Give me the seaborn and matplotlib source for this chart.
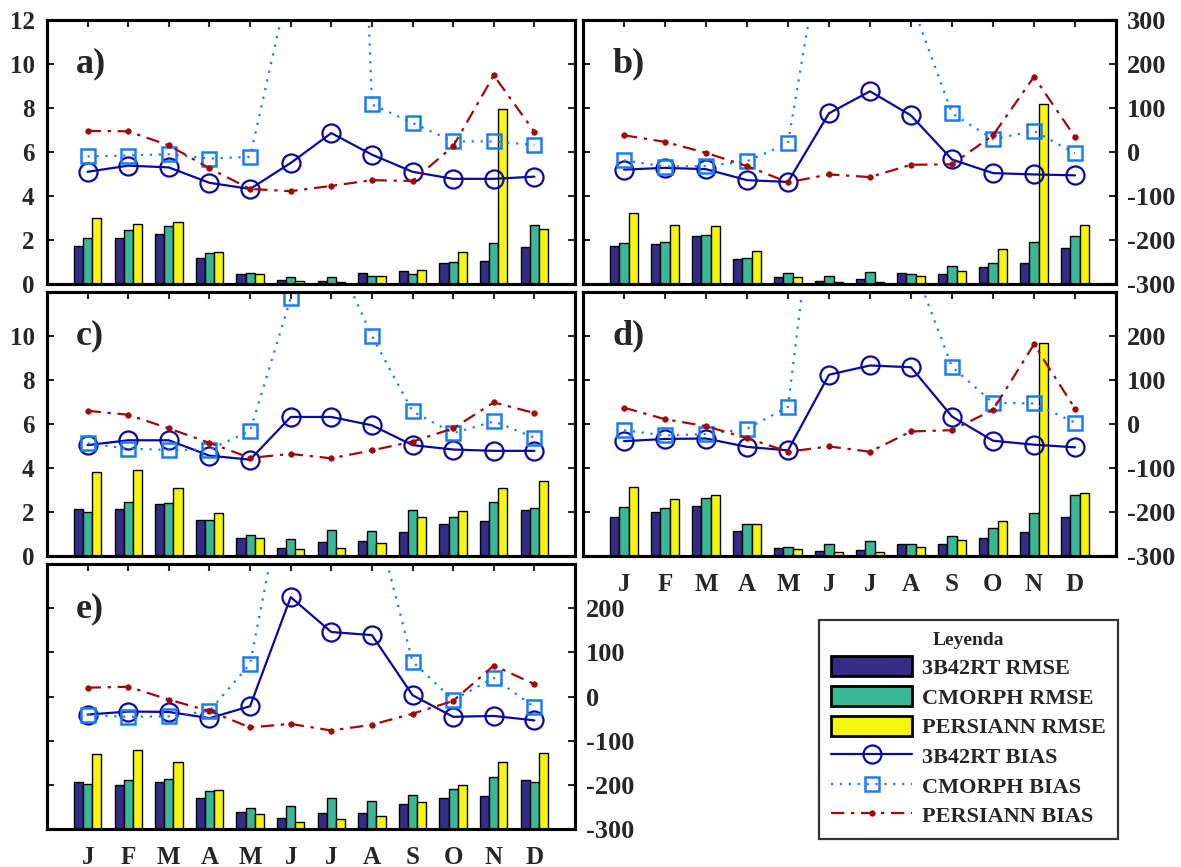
import numpy as np
import pandas as pd
import matplotlib
matplotlib.use("Agg")
import matplotlib.pyplot as plt
import seaborn as sns
from matplotlib.patches import Patch
from matplotlib.lines import Line2D

months = ["J", "F", "M", "A", "M", "J", "J", "A", "S", "O", "N", "D"]
products = ["3B42RT", "CMORPH", "PERSIANN"]

# ---- panel a ----
a_rmse_3b42rt = [1.74, 2.09, 2.26, 1.20, 0.45, 0.17, 0.14, 0.50, 0.58, 0.94, 1.06, 1.70]
a_rmse_cmorph = [2.09, 2.44, 2.64, 1.42, 0.50, 0.30, 0.32, 0.38, 0.47, 1.02, 1.88, 2.67]
a_rmse_persiann = [3.00, 2.71, 2.80, 1.45, 0.47, 0.15, 0.10, 0.38, 0.62, 1.44, 7.95, 2.52]
a_bias_3b42rt = [-45, -31, -35, -70, -84, -25, 43, -6, -45, -61, -61, -56]
a_bias_cmorph = [-10, -8, -5, -15, -11, 400, 2600, 108, 66, 24, 24, 16]
a_bias_persiann = [48, 47, 15, -37, -84, -89, -77, -64, -66, 13, 174, 46]

# ---- panel b ----
b_rmse_3b42rt = [1.72, 1.80, 2.17, 1.13, 0.32, 0.15, 0.21, 0.48, 0.47, 0.78, 0.97, 1.62]
b_rmse_cmorph = [1.87, 1.92, 2.22, 1.16, 0.50, 0.36, 0.53, 0.44, 0.82, 0.97, 1.89, 2.20]
b_rmse_persiann = [3.23, 2.67, 2.63, 1.49, 0.32, 0.10, 0.10, 0.35, 0.60, 1.60, 8.18, 2.67]
b_bias_3b42rt = [-40, -36, -39, -64, -68, 88, 138, 83, -17, -48, -51, -53]
b_bias_cmorph = [-19, -33, -32, -21, 20, 570, 600, 343, 88, 29, 48, -3]
b_bias_persiann = [38, 23, -2, -32, -69, -51, -57, -29, -28, 38, 171, 34]

# ---- panel c ----
c_rmse_3b42rt = [2.15, 2.15, 2.37, 1.62, 0.80, 0.38, 0.64, 0.70, 1.08, 1.46, 1.60, 2.09]
c_rmse_cmorph = [2.00, 2.44, 2.40, 1.64, 0.97, 0.76, 1.18, 1.15, 2.08, 1.78, 2.47, 2.20]
c_rmse_persiann = [3.82, 3.90, 3.10, 1.94, 0.80, 0.30, 0.35, 0.59, 1.76, 2.03, 3.10, 3.40]
c_bias_3b42rt = [-48, -37, -37, -72, -81, 16, 16, -3, -48, -58, -61, -61]
c_bias_cmorph = [-44, -56, -59, -58, -16, 286, 404, 200, 29, -21, 6, -31]
c_bias_persiann = [30, 21, -10, -43, -77, -68, -78, -60, -40, -10, 49, 25]

# ---- panel d ----
d_rmse_3b42rt = [1.77, 2.00, 2.28, 1.15, 0.35, 0.21, 0.29, 0.53, 0.53, 0.83, 1.10, 1.77]
d_rmse_cmorph = [2.22, 2.16, 2.64, 1.47, 0.42, 0.53, 0.68, 0.54, 0.89, 1.27, 1.95, 2.76]
d_rmse_persiann = [3.14, 2.58, 2.76, 1.47, 0.33, 0.17, 0.20, 0.42, 0.72, 1.57, 9.70, 2.85]
d_bias_3b42rt = [-39, -34, -33, -52, -60, 112, 133, 129, 17, -38, -47, -53]
d_bias_cmorph = [-14, -26, -23, -11, 39, 800, 700, 376, 130, 48, 47, 3]
d_bias_persiann = [37, 11, -5, -32, -63, -51, -63, -17, -14, 32, 181, 35]

# ---- panel e ----
e_rmse_3b42rt = [2.12, 1.97, 2.15, 1.42, 0.76, 0.48, 0.73, 0.71, 1.15, 1.42, 1.48, 2.20]
e_rmse_cmorph = [2.06, 2.21, 2.27, 1.74, 0.95, 1.03, 1.42, 1.29, 1.52, 1.82, 2.36, 2.15]
e_rmse_persiann = [3.39, 3.59, 3.02, 1.77, 0.70, 0.30, 0.47, 0.58, 1.24, 1.97, 3.02, 3.42]
e_bias_3b42rt = [-41, -34, -35, -49, -22, 225, 146, 139, 3, -46, -44, -54]
e_bias_cmorph = [-42, -46, -45, -33, 74, 545, 600, 435, 79, -8, 42, -24]
e_bias_persiann = [20, 22, -7, -33, -70, -62, -77, -64, -39, -10, 70, 28]

sns.set_theme(style="white")
plt.rcParams["font.family"] = ["Liberation Serif", "DejaVu Serif"]
plt.rcParams["font.weight"] = "bold"

bar_colors = ["#342c86", "#3ab797", "#f6f60c"]
c_3b = "#0a0a9c"
c_cm = "#1a7cf5"
c_pe = "#a00a0a"
line_specs = [
    dict(color=c_3b, lw=1.6, linestyle="-", marker="o", markersize=13,
         markerfacecolor="none", markeredgecolor=c_3b, markeredgewidth=1.6),
    dict(color=c_cm, lw=1.6, linestyle=(0, (1, 3)), marker="s", markersize=10,
         markerfacecolor="none", markeredgecolor=c_cm, markeredgewidth=1.8),
    dict(color=c_pe, lw=1.6, linestyle=(0, (6, 3, 1.5, 3)), marker="o", markersize=4,
         markerfacecolor=c_pe, markeredgecolor=c_pe, markeredgewidth=0.5),
]

W, H = 1181, 867
fig = plt.figure(figsize=(W / 100, H / 100), dpi=100)


def rect(x0, x1, y0, y1):
    return [x0 / W, 1 - y1 / H, (x1 - x0) / W, (y1 - y0) / H]


TICKFS = 18


def panel(r, label, rmse, bias, left_labels, left_ticks, right_labels, right_ticks, month_labels):
    ax = fig.add_axes(r)
    df = pd.DataFrame({
        "month": np.tile(np.arange(12), 3),
        "product": np.repeat(products, 12),
        "rmse": np.concatenate(rmse),
    })
    sns.barplot(data=df, x="month", y="rmse", hue="product", hue_order=products,
                palette=bar_colors, saturation=1, width=0.675, edgecolor="black",
                linewidth=1.0, ax=ax, legend=False, errorbar=None)
    ax2 = ax.twinx()
    for vals, spec in zip(bias, line_specs):
        sns.lineplot(x=np.arange(12), y=vals, ax=ax2, **spec)
    ax.set_xlim(-1, 12)
    ax.set_ylim(0, 12)
    ax2.set_ylim(-300, 300)
    ax.set_xlabel("")
    ax.set_ylabel("")
    ax2.set_ylabel("")
    ax.set_xticks(range(12))
    ax.set_xticklabels(months if month_labels else [""] * 12)
    ax.set_yticks(left_ticks)
    ax.set_yticklabels([str(v) for v in left_ticks] if left_labels else [""] * len(left_ticks))
    ax2.set_yticks(right_ticks)
    ax2.set_yticklabels([str(v) for v in right_ticks] if right_labels else [""] * len(right_ticks))
    ax.tick_params(axis="x", direction="in", length=5, width=1.5, top=True, bottom=True,
                   labelsize=TICKFS, pad=12)
    ax.tick_params(axis="y", direction="in", length=5, width=1.5, left=True, right=False,
                   labelsize=TICKFS, pad=9)
    ax2.tick_params(axis="y", direction="in", length=5, width=1.5, right=True,
                    labelsize=TICKFS + 1, pad=8)
    for a in (ax, ax2):
        for s in a.spines.values():
            s.set_visible(True)
            s.set_linewidth(2.2)
            s.set_color("black")
    for t in ax.get_xticklabels() + ax.get_yticklabels() + ax2.get_yticklabels():
        t.set_fontweight("bold")
    ax2.text(0.055, 0.80, label, transform=ax.transAxes, fontsize=26,
             fontweight="bold", va="baseline", ha="left")
    return ax, ax2


L_full = [0, 2, 4, 6, 8, 10, 12]
L_c = [0, 2, 4, 6, 8, 10]
R_full = [-300, -200, -100, 0, 100, 200, 300]
R_cut = [-300, -200, -100, 0, 100, 200]

panel(rect(47, 575, 20, 284), "a)",
      [a_rmse_3b42rt, a_rmse_cmorph, a_rmse_persiann],
      [a_bias_3b42rt, a_bias_cmorph, a_bias_persiann],
      True, L_full, False, R_full, False)
panel(rect(583, 1116, 20, 284), "b)",
      [b_rmse_3b42rt, b_rmse_cmorph, b_rmse_persiann],
      [b_bias_3b42rt, b_bias_cmorph, b_bias_persiann],
      False, L_full, True, R_full, False)
panel(rect(47, 575, 292, 556), "c)",
      [c_rmse_3b42rt, c_rmse_cmorph, c_rmse_persiann],
      [c_bias_3b42rt, c_bias_cmorph, c_bias_persiann],
      True, L_c, False, R_full, False)
panel(rect(583, 1116, 292, 556), "d)",
      [d_rmse_3b42rt, d_rmse_cmorph, d_rmse_persiann],
      [d_bias_3b42rt, d_bias_cmorph, d_bias_persiann],
      False, L_full, True, R_cut, True)
panel(rect(47, 575, 564, 829), "e)",
      [e_rmse_3b42rt, e_rmse_cmorph, e_rmse_persiann],
      [e_bias_3b42rt, e_bias_cmorph, e_bias_persiann],
      False, L_full, True, R_cut, True)

handles = [Patch(facecolor=c, edgecolor="black", linewidth=2) for c in bar_colors]
handles += [Line2D([0], [0], **spec) for spec in line_specs]
labels = [p + " RMSE" for p in products] + [p + " BIAS" for p in products]
leg = fig.legend(handles, labels, title="Leyenda", loc="upper left",
                 bbox_to_anchor=(819 / W, 1 - 620 / H), bbox_transform=fig.transFigure,
                 frameon=True, fancybox=False, framealpha=1, edgecolor="#333333",
                 borderaxespad=0, prop={"size": 16, "weight": "bold"},
                 title_fontproperties={"size": 14, "weight": "bold"},
                 handlelength=3.65, handleheight=1.0, handletextpad=0.45,
                 labelspacing=0.32, borderpad=0.55)
leg.get_frame().set_linewidth(1.6)

fig.savefig("out.png", dpi=100)
